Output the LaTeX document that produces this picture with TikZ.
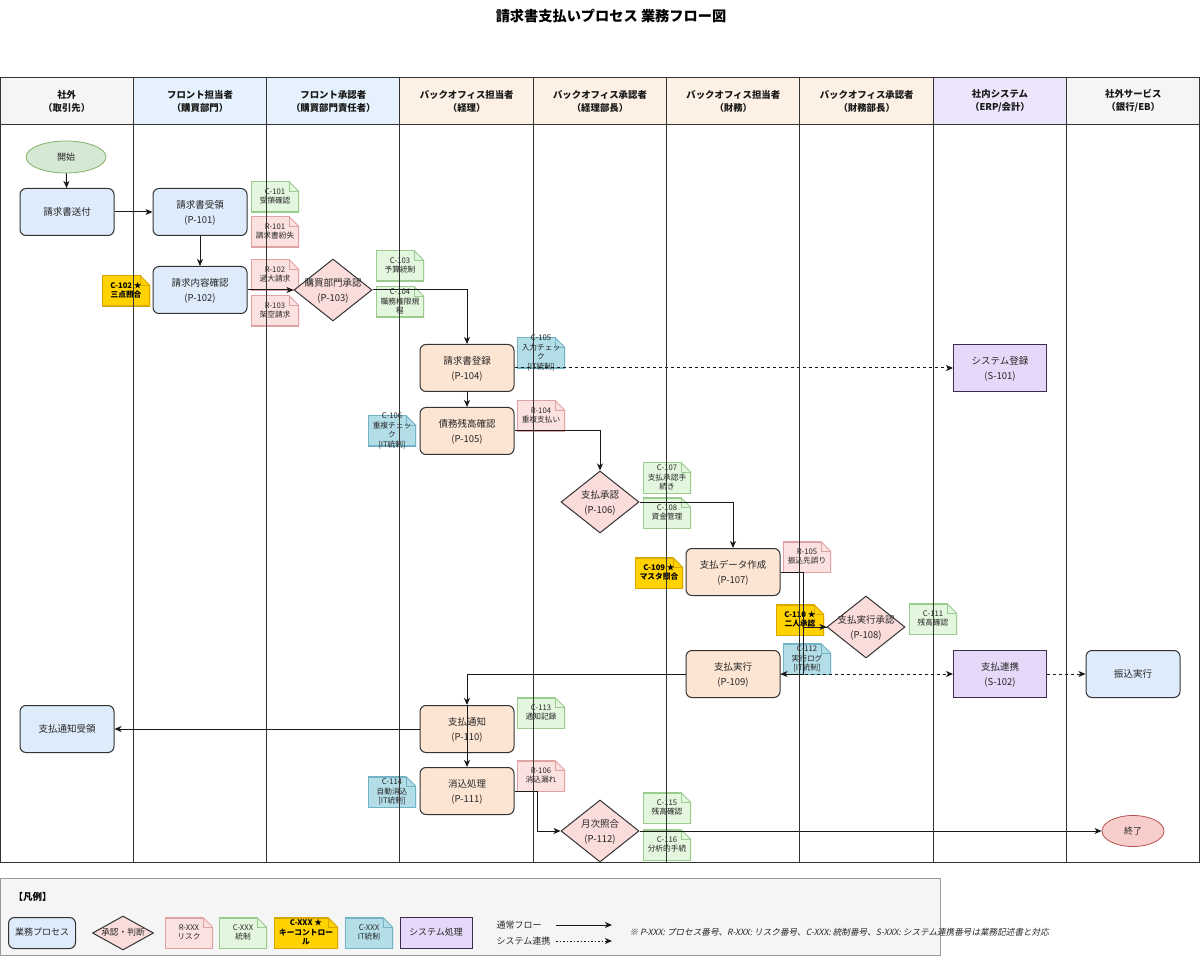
\documentclass[tikz,border=0pt]{standalone}
\usepackage{fontspec}
\setmainfont{Noto Sans CJK JP}
\newfontfamily\jpit{Noto Sans CJK JP}[FakeSlant=0.2]
\usetikzlibrary{arrows.meta,shapes.geometric,calc}
\definecolor{hdrG}{HTML}{F5F5F5}
\definecolor{hdrB}{HTML}{E5F1FC}
\definecolor{hdrO}{HTML}{FDF0E5}
\definecolor{hdrP}{HTML}{ECE5FC}
\definecolor{procB}{HTML}{DEEBFA}
\definecolor{procO}{HTML}{FDE5D3}
\definecolor{decF}{HTML}{FADCDB}
\definecolor{sysF}{HTML}{E5D8F8}
\definecolor{sysD}{HTML}{3C2D4F}
\definecolor{rF}{HTML}{FCE1E1}
\definecolor{rD}{HTML}{E0A3A3}
\definecolor{cF}{HTML}{E3F6DE}
\definecolor{cD}{HTML}{9CCB90}
\definecolor{kF}{HTML}{FFD200}
\definecolor{kD}{HTML}{D8A700}
\definecolor{iF}{HTML}{B3DEE8}
\definecolor{iD}{HTML}{72B3C6}
\definecolor{stF}{HTML}{D5E8D4}
\definecolor{stD}{HTML}{82B366}
\definecolor{enF}{HTML}{F8CECC}
\definecolor{enD}{HTML}{B85450}
\definecolor{lineC}{HTML}{333333}
\definecolor{legF}{HTML}{F5F5F5}
\definecolor{legD}{HTML}{999999}
\newcommand{\zt}[1]{\makebox[0pt]{\smash{\raisebox{-0.3em}{\begin{tabular}[c]{@{}c@{}}#1\end{tabular}}}}}
\tikzset{
  proc/.style={rounded corners=6pt, draw=lineC, line width=1pt, minimum width=94, minimum height=47, inner sep=0pt, text=black!85, font=\fontsize{9.5}{15}\selectfont},
  bproc/.style={proc, fill=procB},
  oproc/.style={proc, fill=procO},
  dec/.style={diamond, draw=lineC, line width=1pt, fill=decF, minimum width=78, minimum height=62, inner sep=0pt, text=black!85, font=\fontsize{9.5}{15}\selectfont},
  sys/.style={draw=sysD, line width=1pt, fill=sysF, minimum width=93, minimum height=47, inner sep=0pt, text=black!85, font=\fontsize{9.5}{15}\selectfont},
  term/.style={ellipse, line width=0.8pt, inner sep=0pt, text=black!85, font=\fontsize{9}{12}\selectfont},
  note/.style 2 args={minimum width=48, minimum height=31, inner sep=0pt, text=black!85, font=\fontsize{7.7}{9.5}\selectfont,
    path picture={
      \fill[#1] (path picture bounding box.south west) -- (path picture bounding box.north west) -- ([xshift=-10pt]path picture bounding box.north east) -- ([yshift=-10pt]path picture bounding box.north east) -- (path picture bounding box.south east) -- cycle;
      \draw[#2,line width=2pt] ([xshift=-10pt]path picture bounding box.north east) -- (path picture bounding box.north west) -- (path picture bounding box.south west) -- (path picture bounding box.south east) -- ([yshift=-10pt]path picture bounding box.north east);
      \draw[#2,line width=0.9pt] ([xshift=-10pt]path picture bounding box.north east) -- ([yshift=-10pt]path picture bounding box.north east);
      \draw[#2,line width=0.9pt] ([xshift=-10pt]path picture bounding box.north east) |- ([yshift=-10pt]path picture bounding box.north east);
    }},
  rnote/.style={note={rF}{rD}},
  cnote/.style={note={cF}{cD}},
  knote/.style={note={kF}{kD}, font=\bfseries\fontsize{7.7}{9.5}\selectfont, text=black},
  itnote/.style={note={iF}{iD}},
  flow/.style={draw=black!90, line width=1pt, -{Stealth[length=7pt,width=6pt,inset=2pt]}},
  sflow/.style={flow, dash pattern=on 3pt off 3pt},
  hdr/.style={align=center, font=\bfseries\fontsize{9.4}{13}\selectfont, text=black!90},
  lane/.style={draw=lineC, line width=1pt}
}
\begin{document}
\begin{tikzpicture}[x=1pt,y=-1pt]
\useasboundingbox (0,0) rectangle (1200,957);
\fill[white] (0,0) rectangle (1200,957);
\node[font=\bfseries\fontsize{14.2}{17}\selectfont] (title) at (611,16) {請求書支払いプロセス 業務フロー図};
% header fills
\fill[hdrG] (0,78) rectangle (133.3,125);
\fill[hdrB] (133.3,78) rectangle (400,125);
\fill[hdrO] (400,78) rectangle (933.3,125);
\fill[hdrP] (933.3,78) rectangle (1066.7,125);
\fill[hdrG] (1066.7,78) rectangle (1199,125);
\node[hdr] (h1) at (66.7,101) {社外\\（取引先）};
\node[hdr] (h2) at (200,101) {フロント担当者\\（購買部門）};
\node[hdr] (h3) at (333.3,101) {フロント承認者\\（購買部門責任者）};
\node[hdr] (h4) at (466.7,101) {バックオフィス担当者\\（経理）};
\node[hdr] (h5) at (600,101) {バックオフィス承認者\\（経理部長）};
\node[hdr] (h6) at (733.3,101) {バックオフィス担当者\\（財務）};
\node[hdr] (h7) at (866.7,101) {バックオフィス承認者\\（財務部長）};
\node[hdr] (h8) at (1000,101) {社内システム\\（ERP/会計）};
\node[hdr] (h9) at (1133.3,101) {社外サービス\\（銀行/EB）};
% notes
\node[cnote] (C101) at (275,197) {\zt{C-101\\受領確認}};
\node[rnote] (R101) at (275,232) {\zt{R-101\\請求書紛失}};
\node[rnote] (R102) at (275,275) {\zt{R-102\\過大請求}};
\node[rnote] (R103) at (275,311) {\zt{R-103\\架空請求}};
\node[knote] (C102) at (126,291) {\zt{C-102 ★\\三点照合}};
\node[cnote] (C103) at (400,266) {\zt{C-103\\予算統制}};
\node[cnote] (C104) at (400,302) {\zt{C-104\\職務権限規\\程}};
\node[itnote] (C105) at (541,353) {\zt{C-105\\入力チェッ\\ク\\{}[IT統制]}};
\node[rnote] (R104) at (541,416) {\zt{R-104\\重複支払い}};
\node[itnote] (C106) at (392,431) {\zt{C-106\\重複チェッ\\ク\\{}[IT統制]}};
\node[cnote] (C107) at (667,478) {\zt{C-107\\支払承認手\\続き}};
\node[cnote] (C108) at (667,513) {\zt{C-108\\資金管理}};
\node[knote] (C109) at (659,573) {\zt{C-109 ★\\マスタ照合}};
\node[rnote] (R105) at (807,557) {\zt{R-105\\振込先誤り}};
\node[knote] (C110) at (800,620) {\zt{C-110 ★\\二人承認}};
\node[cnote] (C111) at (933,619) {\zt{C-111\\残高確認}};
\node[itnote] (C112) at (807,659) {\zt{C-112\\実行ログ\\{}[IT統制]}};
\node[cnote] (C113) at (541,713) {\zt{C-113\\通知記録}};
\node[rnote] (R106) at (541,776) {\zt{R-106\\消込漏れ}};
\node[itnote] (C114) at (392,792) {\zt{C-114\\自動消込\\{}[IT統制]}};
\node[cnote] (C115) at (667,808) {\zt{C-115\\残高確認}};
\node[cnote] (C116) at (667,845) {\zt{C-116\\分析的手続}};
% process nodes
\node[term, draw=stD, fill=stF, minimum width=80, minimum height=32] (start) at (66,157) {開始};
\node[bproc] (send) at (67,212) {\zt{請求書送付}};
\node[bproc] (P101) at (200,212) {\zt{請求書受領\\(P-101)}};
\node[bproc] (P102) at (200,290) {\zt{請求内容確認\\(P-102)}};
\node[dec] (P103) at (333,290) {\zt{購買部門承認\\(P-103)}};
\node[oproc] (P104) at (467,368) {\zt{請求書登録\\(P-104)}};
\node[oproc] (P105) at (467,431) {\zt{債務残高確認\\(P-105)}};
\node[dec] (P106) at (600,502) {\zt{支払承認\\(P-106)}};
\node[oproc] (P107) at (733,572) {\zt{支払データ作成\\(P-107)}};
\node[dec] (P108) at (866,627) {\zt{支払実行承認\\(P-108)}};
\node[oproc] (P109) at (733,674) {\zt{支払実行\\(P-109)}};
\node[oproc] (P110) at (467,729) {\zt{支払通知\\(P-110)}};
\node[oproc] (P111) at (467,791) {\zt{消込処理\\(P-111)}};
\node[dec] (P112) at (600,831) {\zt{月次照合\\(P-112)}};
\node[sys] (S101) at (1000,368) {\zt{システム登録\\(S-101)}};
\node[sys] (S102) at (1000,674) {\zt{支払連携\\(S-102)}};
\node[bproc] (bank) at (1133,674) {\zt{振込実行}};
\node[bproc] (recv) at (67,729) {\zt{支払通知受領}};
\node[term, draw=enD, fill=enF, minimum width=62, minimum height=31] (end) at (1133,831) {終了};
% connectors
\coordinate (k1) at (803,627);
\coordinate (k2) at (537,831);
\draw[flow] (start) -- (send);
\draw[flow] (send) -- (P101);
\draw[flow] (P101) -- (P102);
\draw[flow] (P102.east) -- (P103.west);
\draw[flow] (P103.east) -| (P104.north);
\draw[sflow] (P104.east) -- (S101.west);
\draw[flow] (P104) -- (P105);
\draw[flow] (P105.east) -| (P106.north);
\draw[flow] (P106.east) -| (P107.north);
\draw[flow] (P107.east) -| (k1) -- (P108.west);
\draw[flow] (P108.west) -- (k1) |- (P109.east);
\draw[sflow] (P109.east) -- (S102.west);
\draw[sflow] (S102.east) -- (bank.west);
\draw[flow] (P109.west) -| (P110.north);
\draw[flow] (P110.west) -- (recv.east);
\draw[flow] (P110.north) -- (P111.north);
\draw[flow] (P111.east) -| (k2) -- (P112.west);
\draw[flow] (P112.east) -- (end.west);
% lanes on top
\draw[lane] (0,78) rectangle (1199,862);
\draw[lane] (0,125) -- (1199,125);
\foreach \i in {1,...,8} {\draw[lane] ({133.33*\i},78) -- ({133.33*\i},862);}
% legend
\node[draw=legD, fill=legF, line width=1pt, minimum width=940, minimum height=77, inner sep=0pt, anchor=north west] (legend) at (0,878) {};
\node[anchor=west, font=\bfseries\fontsize{9.5}{12}\selectfont] (leghead) at (10,897) {【凡例】};
\node[bproc, minimum width=67, minimum height=31, font=\fontsize{9}{12}\selectfont] (L1) at (42,933) {\zt{業務プロセス}};
\node[dec, minimum width=61, minimum height=34, font=\fontsize{8.7}{12}\selectfont] (L2) at (123,933) {\zt{承認・判断}};
\node[rnote] (L3) at (189,933) {\zt{R-XXX\\リスク}};
\node[cnote] (L4) at (243,933) {\zt{C-XXX\\統制}};
\node[knote, minimum width=64] (L5) at (306,933) {\zt{C-XXX ★\\キーコントロー\\ル}};
\node[itnote] (L6) at (369,933) {\zt{C-XXX\\IT統制}};
\node[sys, minimum width=72, minimum height=31, font=\fontsize{9}{12}\selectfont] (L7) at (436,933) {\zt{システム処理}};
\node[anchor=west, font=\fontsize{9}{12}\selectfont, text=black!85] (L8) at (493,925) {通常フロー};
\node[anchor=west, font=\fontsize{9}{12}\selectfont, text=black!85] (L9) at (493,941) {システム連携};
\coordinate (a1) at (556,925);
\coordinate (a2) at (612,925);
\coordinate (b1) at (556,941);
\coordinate (b2) at (612,941);
\draw[flow] (a1) -- (a2);
\draw[sflow, dash pattern=on 1.5pt off 2pt] (b1) -- (b2);
\node[anchor=west, font=\jpit\fontsize{8.6}{10}\selectfont, text=black!85] (legnote) at (626,932) {※ P-XXX: プロセス番号、R-XXX: リスク番号、C-XXX: 統制番号、S-XXX: システム連携番号は業務記述書と対応};
\end{tikzpicture}
\end{document}
